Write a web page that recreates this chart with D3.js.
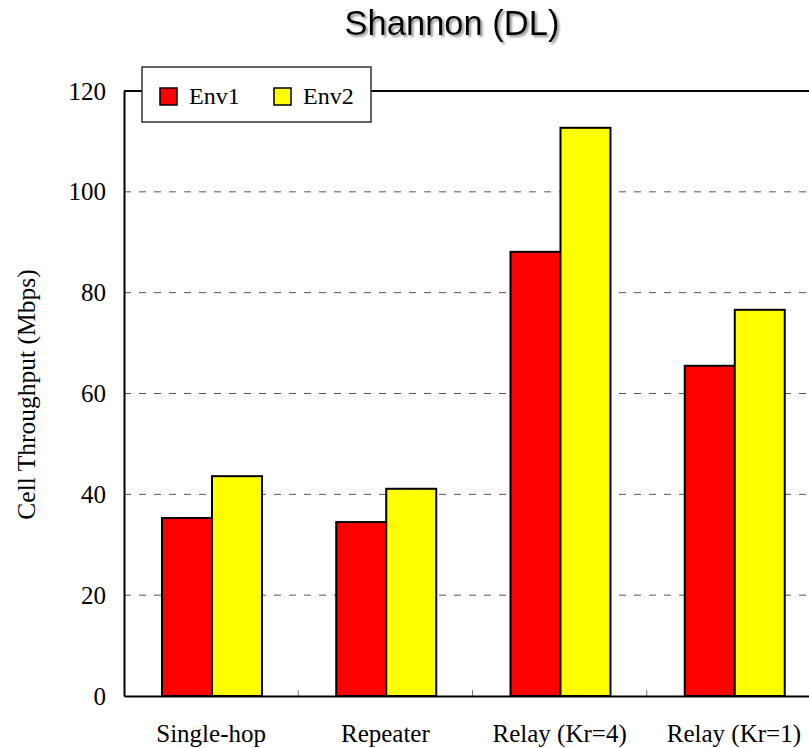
<!DOCTYPE html>
<html lang="en">
<head>
    <meta charset="UTF-8">
    <title>Shannon (DL)</title>
    <script src="https://d3js.org/d3.v7.min.js"></script>
    <style>
        body { margin: 0; background: #fff; overflow: hidden; }
        svg { display: block; }
    </style>
</head>
<body>
    <script>
        const categories = ["Single-hop", "Repeater", "Relay (Kr=4)", "Relay (Kr=1)"];
        const series = ["Env1", "Env2"];
        const env1 = [35.3, 34.5, 88.1, 65.5];
        const env2 = [43.6, 41.1, 112.7, 76.6];
        const yTicks = [0, 20, 40, 60, 80, 100, 120];
        const colors = { Env1: "#ff0000", Env2: "#ffff00" };

        const width = 809, height = 748;
        const plotL = 124, plotR = 821, plotT = 91, plotB = 696;
        const serif = "'Liberation Serif', 'Times New Roman', serif";

        const svg = d3.select("body").append("svg")
            .attr("width", width)
            .attr("height", height);

        // soft shadow for the title
        svg.append("defs").append("filter")
            .attr("id", "shadow")
            .attr("x", "-5%").attr("y", "-20%").attr("width", "115%").attr("height", "150%")
            .append("feDropShadow")
            .attr("dx", 2).attr("dy", 2)
            .attr("stdDeviation", 0.8)
            .attr("flood-color", "#888")
            .attr("flood-opacity", 0.9);

        const x = d3.scaleBand().domain(categories).range([plotL, plotR]).padding(0);
        const xs = d3.scaleBand().domain(series).range([38, 138]).padding(0);
        const y = d3.scaleLinear().domain([0, 120]).range([plotB, plotT]);

        // dashed grid
        svg.append("g")
            .selectAll("line")
            .data(yTicks.filter(d => d > 0 && d < 120))
            .enter().append("line")
            .attr("x1", plotL).attr("x2", plotR)
            .attr("y1", d => y(d)).attr("y2", d => y(d))
            .attr("stroke", "#555")
            .attr("stroke-width", 1)
            .attr("stroke-dasharray", "7,8");

        // bars
        const rows = categories.map((c, i) => ({ cat: c, values: [
            { key: "Env1", v: env1[i] },
            { key: "Env2", v: env2[i] }
        ] }));

        svg.append("g")
            .selectAll("g")
            .data(rows)
            .enter().append("g")
            .attr("transform", d => `translate(${x(d.cat)},0)`)
            .selectAll("rect")
            .data(d => d.values)
            .enter().append("rect")
            .attr("x", d => xs(d.key))
            .attr("width", xs.bandwidth())
            .attr("y", d => y(d.v))
            .attr("height", d => y(0) - y(d.v))
            .attr("fill", d => colors[d.key])
            .attr("stroke", "#000")
            .attr("stroke-width", 2);

        // category separators
        svg.append("g")
            .selectAll("line")
            .data(categories.slice(1))
            .enter().append("line")
            .attr("x1", d => x(d)).attr("x2", d => x(d))
            .attr("y1", plotB).attr("y2", plotB - 6)
            .attr("stroke", "#777")
            .attr("stroke-width", 1);

        // top frame line
        svg.append("line").attr("x1", plotL).attr("x2", plotR).attr("y1", plotT).attr("y2", plotT)
            .attr("stroke", "#000").attr("stroke-width", 2);

        const yAxis = d3.axisLeft(y).tickValues(yTicks).tickSize(0).tickPadding(18);
        const gy = svg.append("g").attr("transform", `translate(${plotL},0)`).call(yAxis);
        gy.select(".domain").attr("stroke", "#000").attr("stroke-width", 2);
        gy.selectAll("text")
            .attr("font-family", serif)
            .attr("font-size", 25)
            .attr("fill", "#000");

        const xAxis = d3.axisBottom(x).tickSize(0).tickPadding(28);
        const gx = svg.append("g").attr("transform", `translate(0,${plotB})`).call(xAxis);
        gx.select(".domain").attr("stroke", "#000").attr("stroke-width", 2);
        gx.selectAll("text")
            .attr("font-family", serif)
            .attr("font-size", 25)
            .attr("fill", "#000");

        // y label
        svg.append("text")
            .attr("transform", `translate(35,${(plotT + plotB) / 2 + 1}) rotate(-90)`)
            .attr("text-anchor", "middle")
            .attr("font-family", serif)
            .attr("font-size", 25.5)
            .text("Cell Throughput (Mbps)");

        // title
        svg.append("text")
            .attr("x", 452).attr("y", 35)
            .attr("text-anchor", "middle")
            .attr("font-family", "'Liberation Sans', Arial, sans-serif")
            .attr("font-size", 34.5)
            .attr("fill", "#000")
            .attr("filter", "url(#shadow)")
            .text("Shannon (DL)");

        // legend
        const lg = svg.append("g").attr("transform", "translate(142,67)");
        lg.append("rect")
            .attr("width", 229).attr("height", 55)
            .attr("fill", "#fff")
            .attr("stroke", "#333")
            .attr("stroke-width", 1.5);
        const items = lg.selectAll("g.item")
            .data(series)
            .enter().append("g")
            .attr("class", "item")
            .attr("transform", (d, i) => `translate(${18 + i * 114},21)`);
        items.append("rect")
            .attr("width", 17).attr("height", 17)
            .attr("fill", d => colors[d])
            .attr("stroke", "#000")
            .attr("stroke-width", 1.5);
        items.append("text")
            .attr("x", 29).attr("y", 16)
            .attr("font-family", serif)
            .attr("font-size", 24)
            .text(d => d);
    </script>
</body>
</html>
